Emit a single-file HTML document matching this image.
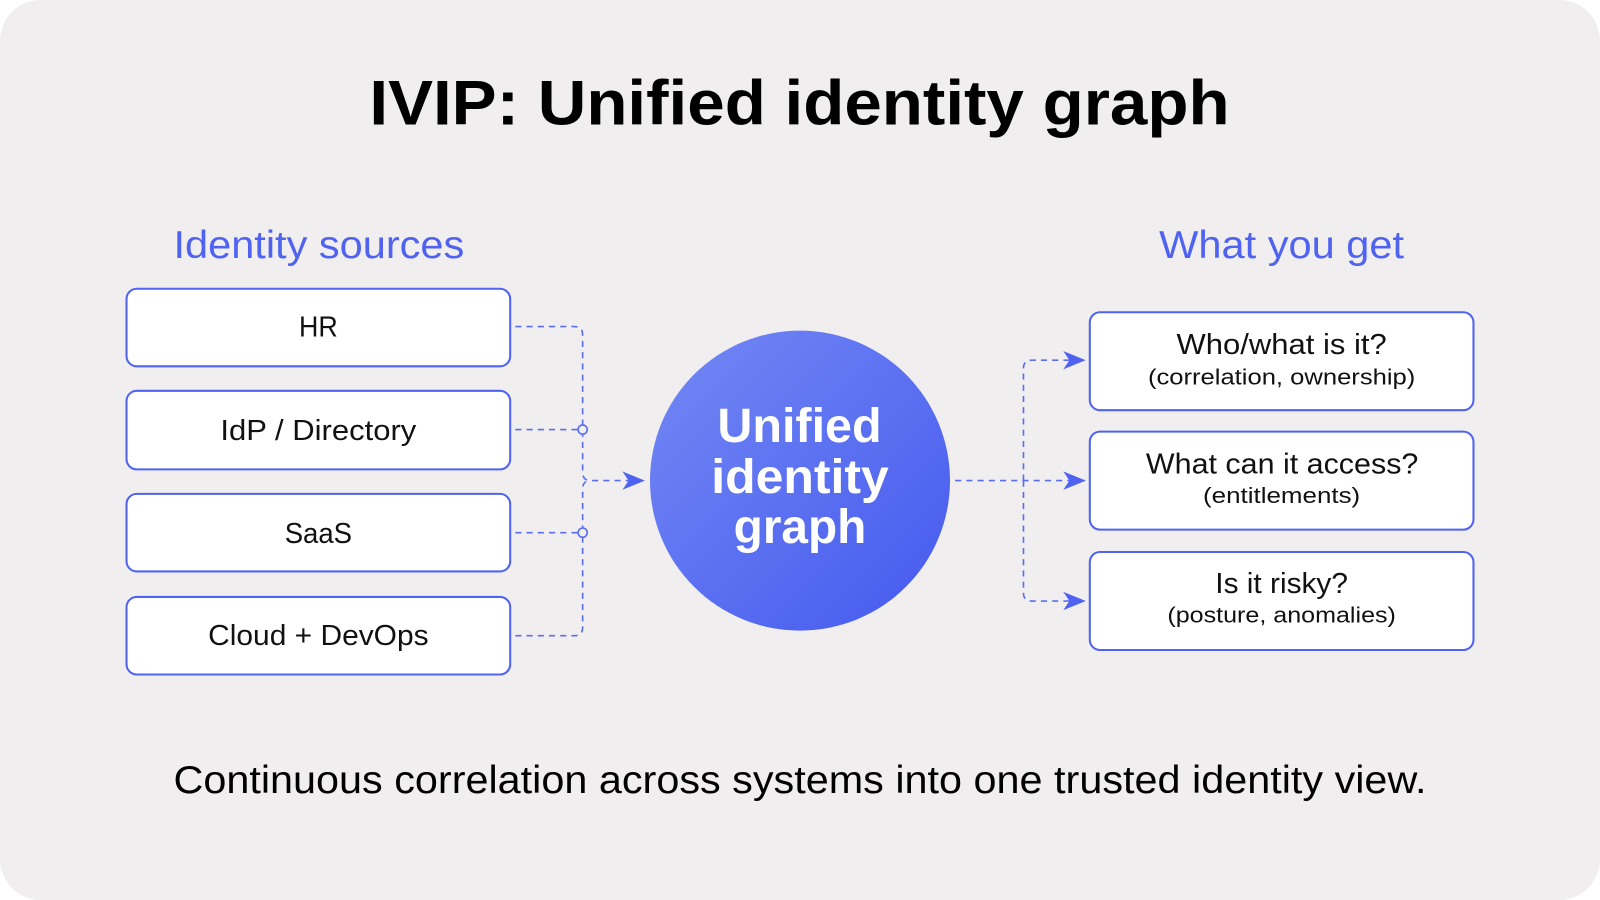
<!DOCTYPE html>
<html><head><meta charset="utf-8"><style>
html,body{margin:0;padding:0;background:#fff;width:1600px;height:900px;overflow:hidden}
svg{display:block}
text{font-family:"Liberation Sans",sans-serif}
</style></head><body>
<svg width="1600" height="900" viewBox="0 0 1568 882" preserveAspectRatio="none">
<defs>
<linearGradient id="g" x1="0" y1="0" x2="1" y2="1">
<stop offset="0" stop-color="#7489f4"/><stop offset="1" stop-color="#4459ee"/>
</linearGradient>
<marker id="a" viewBox="0 0 22 18" refX="22" refY="9" markerWidth="22" markerHeight="18" markerUnits="userSpaceOnUse" orient="auto">
<path d="M0,0 L22,9 L0,18 L6,9 Z" fill="#4f63f0"/></marker>
</defs>
<rect x="0" y="0" width="1568" height="882" rx="40" fill="#f0eeef"/>
<text x="362" y="122" textLength="843" lengthAdjust="spacingAndGlyphs" font-size="62" font-weight="bold" fill="#000">IVIP: Unified identity graph</text>
<text x="170" y="253" textLength="285" lengthAdjust="spacingAndGlyphs" font-size="38" fill="#4f63f0">Identity sources</text>
<text x="1136" y="253" textLength="240" lengthAdjust="spacingAndGlyphs" font-size="38" fill="#4f63f0">What you get</text>
<g fill="#fff" stroke="#4f63f0" stroke-width="2">
<rect x="124" y="283" width="376" height="76" rx="10"/>
<rect x="124" y="383" width="376" height="77" rx="10"/>
<rect x="124" y="484" width="376" height="76" rx="10"/>
<rect x="124" y="585" width="376" height="76" rx="10"/>
<rect x="1068" y="306" width="376" height="96" rx="10"/>
<rect x="1068" y="423" width="376" height="96" rx="10"/>
<rect x="1068" y="541" width="376" height="96" rx="10"/>
</g>
<g font-size="28" fill="#111" lengthAdjust="spacingAndGlyphs">
<text x="293" y="330" textLength="38" lengthAdjust="spacingAndGlyphs">HR</text>
<text x="216" y="431" textLength="192" lengthAdjust="spacingAndGlyphs">IdP / Directory</text>
<text x="279" y="532" textLength="66" lengthAdjust="spacingAndGlyphs">SaaS</text>
<text x="204" y="632" textLength="216" lengthAdjust="spacingAndGlyphs">Cloud + DevOps</text>
<text x="1153" y="347" textLength="206" lengthAdjust="spacingAndGlyphs">Who/what is it?</text>
<text x="1123" y="464" textLength="267" lengthAdjust="spacingAndGlyphs">What can it access?</text>
<text x="1191" y="581" textLength="130" lengthAdjust="spacingAndGlyphs">Is it risky?</text>
</g>
<g font-size="22" fill="#111">
<text x="1125" y="377" textLength="262" lengthAdjust="spacingAndGlyphs">(correlation, ownership)</text>
<text x="1179" y="493" textLength="154" lengthAdjust="spacingAndGlyphs">(entitlements)</text>
<text x="1144" y="610" textLength="224" lengthAdjust="spacingAndGlyphs">(posture, anomalies)</text>
</g>
<g fill="none" stroke="#5b6ef0" stroke-width="1.6" stroke-dasharray="6,5">
<path d="M505,320 H563 Q571,320 571,328 V463 Q571,471 579,471 H632" marker-end="url(#a)"/>
<path d="M505,623 H563 Q571,623 571,615 V479 Q571,471 579,471"/>
<path d="M505,421 H567 M505,522 H567"/>
<path d="M936,471 H1064" marker-end="url(#a)"/>
<path d="M1003,471 V361 Q1003,353 1011,353 H1064" marker-end="url(#a)"/>
<path d="M1003,471 V581 Q1003,589 1011,589 H1064" marker-end="url(#a)"/>
</g>
<circle cx="571" cy="421" r="4.5" fill="#f0eeef" stroke="#5b6ef0" stroke-width="1.6"/>
<circle cx="571" cy="522" r="4.5" fill="#f0eeef" stroke="#5b6ef0" stroke-width="1.6"/>
<circle cx="784" cy="471" r="147" fill="url(#g)"/>
<g font-size="47" font-weight="bold" fill="#fff">
<text x="703" y="433" textLength="161" lengthAdjust="spacingAndGlyphs">Unified</text>
<text x="697" y="483" textLength="174" lengthAdjust="spacingAndGlyphs">identity</text>
<text x="719" y="532" textLength="130" lengthAdjust="spacingAndGlyphs">graph</text>
</g>
<text x="170" y="777" textLength="1228" lengthAdjust="spacingAndGlyphs" font-size="38" fill="#000">Continuous correlation across systems into one trusted identity view.</text>
</svg>
</body></html>
